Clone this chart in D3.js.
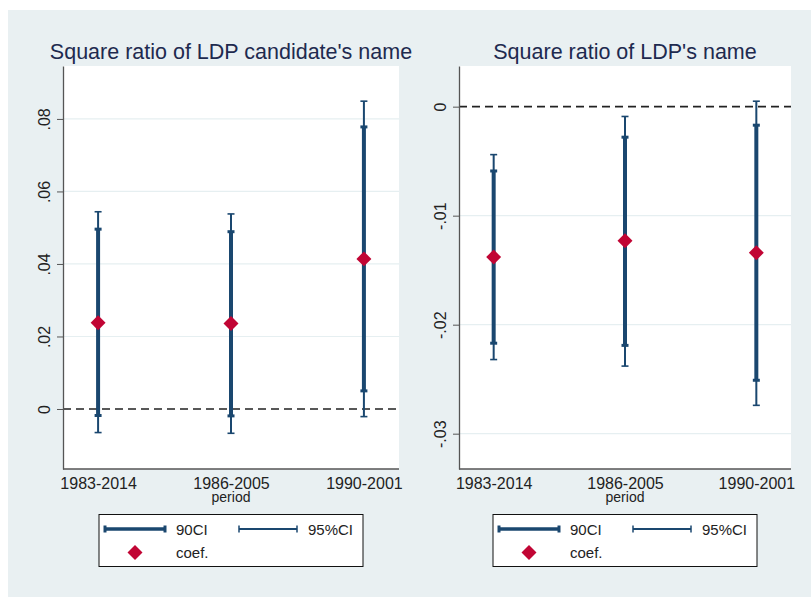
<!DOCTYPE html>
<html>
<head>
<meta charset="utf-8">
<script src="https://cdn.jsdelivr.net/npm/d3@7"></script>
<style>
  body { margin: 0; background: #fff; }
  svg text { font-family: "Liberation Sans", Arial, sans-serif; }
</style>
</head>
<body>
<svg id="chart" width="811" height="597"></svg>
<script>
// periods on the x axis
var categories = ["1983-2014", "1986-2005", "1990-2001"];

// left panel: candidate's name
var candCoef = [0.0238, 0.0236, 0.0414];
var candLo90 = [-0.0018, -0.0019, 0.0050];
var candHi90 = [0.0496, 0.0489, 0.0778];
var candLo95 = [-0.0065, -0.0067, -0.0021];
var candHi95 = [0.0544, 0.0538, 0.0849];
var candTicks = [0, 0.02, 0.04, 0.06, 0.08];
var candTickLabels = ["0", ".02", ".04", ".06", ".08"];

// right panel: party's name
var partyCoef = [-0.0138, -0.0123, -0.0134];
var partyLo90 = [-0.0217, -0.0219, -0.0251];
var partyHi90 = [-0.0059, -0.0028, -0.0017];
var partyLo95 = [-0.0232, -0.0238, -0.0274];
var partyHi95 = [-0.0044, -0.0009, 0.0005];
var partyTicks = [-0.03, -0.02, -0.01, 0];
var partyTickLabels = ["-.03", "-.02", "-.01", "0"];

var navy = "#1a476f", red = "#c10534";
var svg = d3.select("#chart");

svg.append("rect")
    .attr("x", 8).attr("y", 10)
    .attr("width", 803).attr("height", 587)
    .attr("fill", "#e9f0f2");

function drawPanel(p) {
  var g = svg.append("g");
  var x = d3.scalePoint().domain(categories).range([p.left, p.right]).padding(0.264);
  var y = d3.scaleLinear().domain(p.domain).range([469, 66]);

  g.append("rect")
      .attr("x", p.left).attr("y", 66)
      .attr("width", p.right - p.left).attr("height", 403)
      .attr("fill", "#fff");

  // grid
  g.selectAll("line.grid")
      .data(p.ticks.filter(function(t) { return t !== 0; }))
      .enter().append("line")
      .attr("x1", p.left).attr("x2", p.right)
      .attr("y1", function(d) { return y(d); })
      .attr("y2", function(d) { return y(d); })
      .attr("stroke", "#e6eff1").attr("stroke-width", 1.2);

  g.append("line")
      .attr("x1", p.left).attr("x2", p.right)
      .attr("y1", y(0)).attr("y2", y(0))
      .attr("stroke", "#222").attr("stroke-width", 1.6)
      .attr("stroke-dasharray", "8,5");

  // y axis
  var yAxis = g.append("g")
      .attr("transform", "translate(" + p.left + ",0)")
      .call(d3.axisLeft(y).tickValues(p.ticks)
        .tickFormat(function(d, i) { return p.tickLabels[i]; })
        .tickSize(6).tickSizeOuter(0));
  yAxis.select(".domain").attr("stroke", "#555").attr("stroke-width", 1.3);
  yAxis.selectAll(".tick line").attr("stroke", "#555");
  yAxis.selectAll(".tick text")
      .attr("transform", "rotate(-90)")
      .attr("x", 0).attr("y", -13).attr("dy", 0)
      .attr("text-anchor", "middle")
      .attr("font-size", 16).attr("fill", "#222");

  // x axis
  var xAxis = g.append("g")
      .attr("transform", "translate(0,469)")
      .call(d3.axisBottom(x).tickSize(0).tickSizeOuter(0));
  xAxis.select(".domain").attr("stroke", "#555").attr("stroke-width", 1.3)
      .attr("d", "M" + p.left + ",0H" + p.right);
  xAxis.selectAll(".tick text")
      .attr("y", 19.5).attr("dy", 0)
      .attr("font-size", 16).attr("fill", "#222");

  g.append("text")
      .attr("x", x(categories[1])).attr("y", 501.5)
      .attr("text-anchor", "middle")
      .attr("font-size", 14).attr("fill", "#222")
      .text("period");

  g.append("text")
      .attr("x", (p.left + p.right) / 2).attr("y", 58.5)
      .attr("text-anchor", "middle")
      .attr("font-size", 21.5).attr("fill", "#1e2a4f")
      .text(p.title);

  // 95% CI
  var idx = d3.range(categories.length);
  g.selectAll("line.ci95").data(idx).enter().append("line")
      .attr("x1", function(i) { return x(categories[i]); })
      .attr("x2", function(i) { return x(categories[i]); })
      .attr("y1", function(i) { return y(p.lo95[i]); })
      .attr("y2", function(i) { return y(p.hi95[i]); })
      .attr("stroke", navy).attr("stroke-width", 2);
  [p.lo95, p.hi95].forEach(function(arr) {
    g.selectAll(null).data(idx).enter().append("line")
        .attr("x1", function(i) { return x(categories[i]) - 3.5; })
        .attr("x2", function(i) { return x(categories[i]) + 3.5; })
        .attr("y1", function(i) { return y(arr[i]); })
        .attr("y2", function(i) { return y(arr[i]); })
        .attr("stroke", navy).attr("stroke-width", 1.6);
  });

  // 90% CI
  g.selectAll("line.ci90").data(idx).enter().append("line")
      .attr("x1", function(i) { return x(categories[i]); })
      .attr("x2", function(i) { return x(categories[i]); })
      .attr("y1", function(i) { return y(p.lo90[i]); })
      .attr("y2", function(i) { return y(p.hi90[i]); })
      .attr("stroke", navy).attr("stroke-width", 4);
  [p.lo90, p.hi90].forEach(function(arr) {
    g.selectAll(null).data(idx).enter().append("line")
        .attr("x1", function(i) { return x(categories[i]) - 3.5; })
        .attr("x2", function(i) { return x(categories[i]) + 3.5; })
        .attr("y1", function(i) { return y(arr[i]); })
        .attr("y2", function(i) { return y(arr[i]); })
        .attr("stroke", navy).attr("stroke-width", 3);
  });

  // coefficients
  var diamond = d3.symbol().type(d3.symbolSquare).size(112);
  g.selectAll("path.coef").data(idx).enter().append("path")
      .attr("d", diamond)
      .attr("transform", function(i) {
        return "translate(" + x(categories[i]) + "," + y(p.coef[i]) + ") rotate(45)";
      })
      .attr("fill", red);

  // legend
  var lx = (p.left + p.right) / 2 - 132, ly = 514.5;
  var lg = g.append("g").attr("transform", "translate(" + lx + "," + ly + ")");
  lg.append("rect").attr("width", 264).attr("height", 52)
      .attr("fill", "#fff").attr("stroke", "#111").attr("stroke-width", 1);
  lg.append("line").attr("x1", 6).attr("x2", 66).attr("y1", 14.5).attr("y2", 14.5)
      .attr("stroke", navy).attr("stroke-width", 3.5);
  [6, 66].forEach(function(cx) {
    lg.append("line").attr("x1", cx).attr("x2", cx).attr("y1", 11).attr("y2", 18)
        .attr("stroke", navy).attr("stroke-width", 3);
  });
  lg.append("line").attr("x1", 140).attr("x2", 198).attr("y1", 14.5).attr("y2", 14.5)
      .attr("stroke", navy).attr("stroke-width", 1.8);
  [140, 198].forEach(function(cx) {
    lg.append("line").attr("x1", cx).attr("x2", cx).attr("y1", 11).attr("y2", 18)
        .attr("stroke", navy).attr("stroke-width", 1.5);
  });
  lg.append("path").attr("d", diamond)
      .attr("transform", "translate(36,38) rotate(45)").attr("fill", red);
  lg.append("text").attr("x", 77).attr("y", 20.5).attr("font-size", 15).attr("fill", "#222").text("90CI");
  lg.append("text").attr("x", 209).attr("y", 20.5).attr("font-size", 15).attr("fill", "#222").text("95%CI");
  lg.append("text").attr("x", 77).attr("y", 43.5).attr("font-size", 15).attr("fill", "#222").text("coef.");
}

drawPanel({
  title: "Square ratio of LDP candidate's name",
  left: 63, right: 399,
  domain: [-0.01655, 0.0946],
  ticks: candTicks, tickLabels: candTickLabels,
  coef: candCoef, lo90: candLo90, hi90: candHi90, lo95: candLo95, hi95: candHi95
});

drawPanel({
  title: "Square ratio of LDP's name",
  left: 459, right: 791,
  domain: [-0.03324, 0.00373],
  ticks: partyTicks, tickLabels: partyTickLabels,
  coef: partyCoef, lo90: partyLo90, hi90: partyHi90, lo95: partyLo95, hi95: partyHi95
});
</script>
</body>
</html>
